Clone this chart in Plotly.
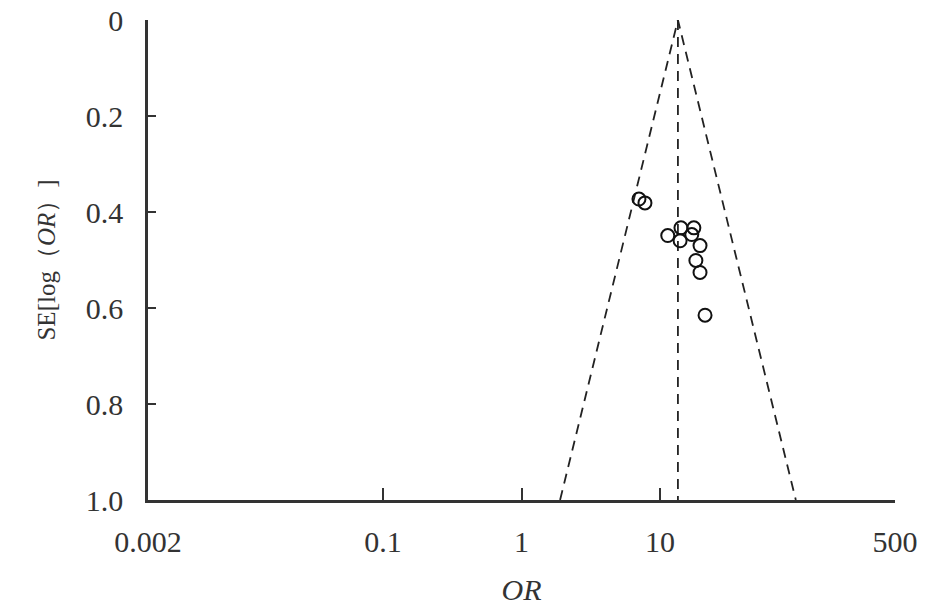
import math
import plotly.graph_objects as go

# Study data: odds ratio and standard error of log(OR)
or_values = [7.06, 7.8, 11.4, 14.2, 17.6, 14.0, 17.0, 19.5, 18.2, 19.5, 21.2]
se_values = [0.373, 0.381, 0.449, 0.433, 0.433, 0.460, 0.447, 0.470, 0.501, 0.526, 0.615]

# Pooled estimate and funnel limits
pooled_or = [13.5, 13.5]
pooled_se = [0.0, 1.0]
funnel_or = [1.9, 13.5, 96.0]
funnel_se = [1.0, 0.0, 1.0]

x_tickvals = [0.002, 0.1, 1, 10, 500]
x_ticktext = ["0.002", "0.1", "1", "10", "500"]
y_tickvals = [0, 0.2, 0.4, 0.6, 0.8, 1.0]
y_ticktext = ["0", "0.2", "0.4", "0.6", "0.8", "1.0"]

FONT = "Liberation Serif, Times New Roman, serif"
AXC = "#333333"
DASH = "10px,7px"

fig = go.Figure()
fig.add_trace(go.Scatter(x=funnel_or, y=funnel_se, mode="lines",
                         line=dict(color="#222222", width=1.8, dash=DASH),
                         hoverinfo="skip", showlegend=False))
fig.add_trace(go.Scatter(x=pooled_or, y=pooled_se, mode="lines",
                         line=dict(color="#222222", width=1.8, dash=DASH),
                         hoverinfo="skip", showlegend=False))
fig.add_trace(go.Scatter(x=or_values, y=se_values, mode="markers",
                         marker=dict(symbol="circle-open", size=13, color="#111111",
                                     line=dict(width=2, color="#111111")),
                         showlegend=False))

fig.update_layout(
    width=945, height=609,
    margin=dict(l=140, r=58, t=12, b=117, autoexpand=False),
    paper_bgcolor="white", plot_bgcolor="white",
    font=dict(family=FONT, size=30, color="#333333"),
    xaxis=dict(type="log", range=[math.log10(0.002), math.log10(500)],
               tickvals=x_tickvals, ticktext=x_ticktext,
               ticks="inside", ticklen=12, tickwidth=2, tickcolor=AXC,
               showline=True, linecolor=AXC, linewidth=2.5,
               showgrid=False, zeroline=False,
               ticklabelstandoff=13, ticklabeloverflow="allow",
               automargin=False,
               title=dict(text="<i>OR</i>", font=dict(family=FONT, size=30), standoff=23)),
    yaxis=dict(range=[1.0, 0.0],
               tickvals=y_tickvals, ticktext=y_ticktext,
               ticks="inside", ticklen=8, tickwidth=2, tickcolor=AXC,
               showline=True, linecolor=AXC, linewidth=2.5,
               showgrid=False, zeroline=False,
               ticklabelstandoff=16, ticklabeloverflow="allow",
               automargin=False,
               title=dict(text="SE[log（<i>OR</i>）]", font=dict(family=FONT, size=25), standoff=24)),
)

fig.write_html("out.html")
